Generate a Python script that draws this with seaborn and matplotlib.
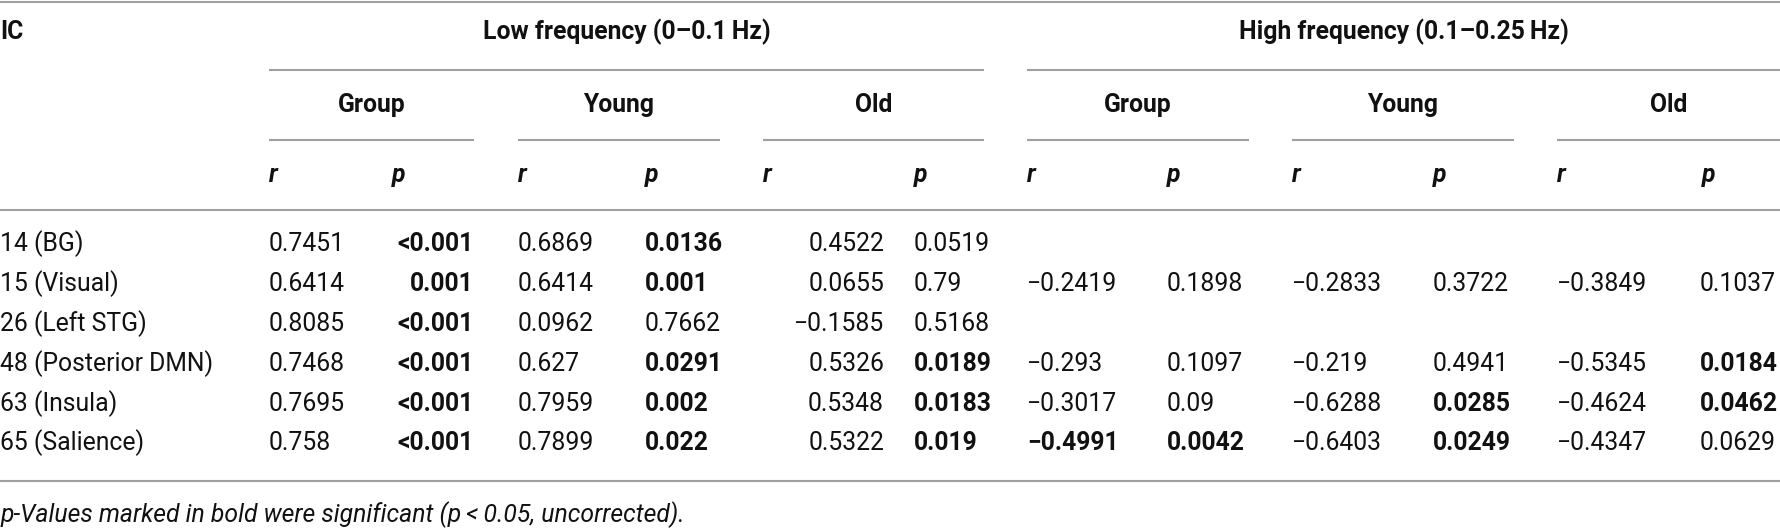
import matplotlib
matplotlib.use("Agg")
import matplotlib.pyplot as plt
import seaborn as sns

# data
ic = ["14 (BG)", "15 (Visual)", "26 (Left STG)", "48 (Posterior DMN)", "63 (Insula)", "65 (Salience)"]
low_group_r = ["0.7451", "0.6414", "0.8085", "0.7468", "0.7695", "0.758"]
low_group_p = ["<0.001", "0.001", "<0.001", "<0.001", "<0.001", "<0.001"]
low_young_r = ["0.6869", "0.6414", "0.0962", "0.627", "0.7959", "0.7899"]
low_young_p = ["0.0136", "0.001", "0.7662", "0.0291", "0.002", "0.022"]
low_old_r = ["0.4522", "0.0655", "\u22120.1585", "0.5326", "0.5348", "0.5322"]
low_old_p = ["0.0519", "0.79", "0.5168", "0.0189", "0.0183", "0.019"]
high_group_r = ["", "\u22120.2419", "", "\u22120.293", "\u22120.3017", "\u22120.4991"]
high_group_p = ["", "0.1898", "", "0.1097", "0.09", "0.0042"]
high_young_r = ["", "\u22120.2833", "", "\u22120.219", "\u22120.6288", "\u22120.6403"]
high_young_p = ["", "0.3722", "", "0.4941", "0.0285", "0.0249"]
high_old_r = ["", "\u22120.3849", "", "\u22120.5345", "\u22120.4624", "\u22120.4347"]
high_old_p = ["", "0.1037", "", "0.0184", "0.0462", "0.0629"]
bold_r = {(6, 5)}  # (column index, row index) of r values printed bold

bands = ["Low frequency (0\u20130.1\u2009Hz)", "High frequency (0.1\u20130.25\u2009Hz)"]
groups = ["Group", "Young", "Old"]

sns.set_theme(style="white")
plt.rcParams["font.family"] = ["Roboto", "Liberation Sans", "DejaVu Sans"]

columns = [low_group_r, low_group_p, low_young_r, low_young_p, low_old_r, low_old_p,
           high_group_r, high_group_p, high_young_r, high_young_p, high_old_r, high_old_p]

# layout (pixel positions on a 1780x529 canvas)
col_x = [269, 474, 518, 645, 884, 914, 1027, 1167, 1292, 1433, 1557, 1700]
col_ha = ["left", "right", "left", "left", "right", "left",
          "left", "left", "left", "left", "left", "left"]
head_x = [269, 392, 518, 645, 763, 914, 1027, 1167, 1292, 1433, 1557, 1702]
group_spans = [(269, 474), (518, 720), (763, 984), (1027, 1249), (1292, 1514), (1557, 1780)]
band_spans = [(269, 984), (1027, 1780)]
row_y = [244, 284, 324, 364, 404, 443]
ink = "#111111"
rule = "#a0a0a0"
fs = 17.8
plain = "normal"

fig = plt.figure(figsize=(17.8, 5.29), dpi=100)
ax = fig.add_axes([0, 0, 1, 1])
ax.set_xlim(0, 1780)
ax.set_ylim(529, 0)
ax.axis("off")

def hline(y, x0=0, x1=1780):
    ax.plot([x0, x1], [y, y], color=rule, lw=1.5, solid_capstyle="butt")

hline(1.5)
ax.text(0, 32, "IC", fontsize=fs, fontweight="bold", color=ink, va="center")
for (x0, x1), name in zip(band_spans, bands):
    ax.text((x0 + x1) / 2, 32, name, fontsize=fs, fontweight="bold",
            color=ink, va="center", ha="center")
    hline(70, x0, x1)
for (x0, x1), name in zip(group_spans, groups * 2):
    ax.text((x0 + x1) / 2, 105, name, fontsize=fs, fontweight="bold",
            color=ink, va="center", ha="center")
    hline(140, x0, x1)
for i, x in enumerate(head_x):
    ax.text(x, 175, "r" if i % 2 == 0 else "p", fontsize=fs, fontweight="bold",
            fontstyle="italic", color=ink, va="center")
hline(210)

for j, label in enumerate(ic):
    ax.text(0, row_y[j], label, fontsize=fs, fontweight=plain, color=ink, va="center")

for c, values in enumerate(columns):
    for j, v in enumerate(values):
        if not v:
            continue
        if c % 2 == 1:
            bold = v.startswith("<") or float(v) < 0.05
        else:
            bold = (c, j) in bold_r
        ax.text(col_x[c], row_y[j], v, fontsize=fs, color=ink, va="center",
                ha=col_ha[c], fontweight="bold" if bold else plain)

hline(481)
ax.text(0, 515, "p-Values marked in bold were significant (p\u2009<\u20090.05, uncorrected).",
        fontsize=fs, fontstyle="italic", fontweight=plain, color=ink, va="center")

fig.savefig("out.png", dpi=100)
